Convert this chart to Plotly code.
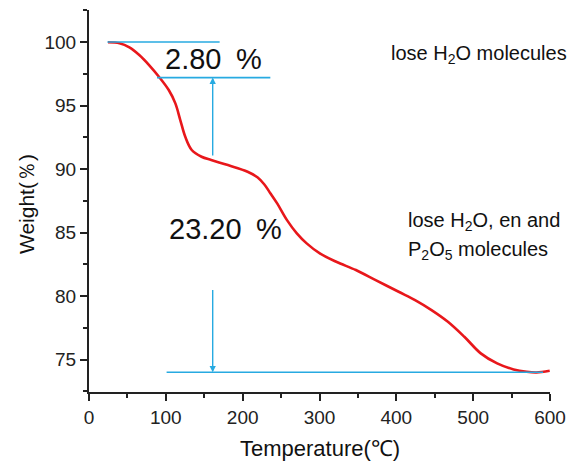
import plotly.graph_objects as go

# TGA curve: temperature (°C) vs remaining weight (%)
temperature = [24.7, 39.7, 52.6, 65.4, 78.2, 91.0, 103.8, 112.4, 118.8, 125.3, 133.7,
               146.5, 159.0, 180.8, 206.4, 219.2, 228.0, 236.0, 244.9, 257.7, 270.5,
               283.3, 300.4, 321.8, 347.4, 373.1, 403.0, 424.4, 445.8, 467.1, 488.5,
               509.9, 531.2, 552.6, 569.6, 582.4, 599.6]
weight = [99.98, 99.90, 99.58, 98.98, 98.19, 97.27, 96.22, 95.17, 93.86, 92.54, 91.50,
          90.97, 90.71, 90.31, 89.79, 89.35, 88.80, 88.10, 87.30, 85.98, 84.94,
          84.15, 83.36, 82.70, 82.05, 81.26, 80.34, 79.69, 78.90, 77.98, 76.80,
          75.49, 74.70, 74.23, 74.04, 73.99, 74.12]

# Mass-loss steps
start_weight = 100.0
loss_step1 = 2.80
loss_step2 = 23.20
after_step1 = start_weight - loss_step1
after_step2 = after_step1 - loss_step2

x_ticks = [0, 100, 200, 300, 400, 500, 600]
y_ticks = [75, 80, 85, 90, 95, 100]

RED = "#e8171b"
BLUE = "#27aae1"
FONT = "Liberation Sans, Arial, sans-serif"

fig = go.Figure()

fig.add_trace(go.Scatter(
    x=temperature, y=weight, mode="lines",
    line=dict(color=RED, width=2.6, shape="spline", smoothing=1.0),
    showlegend=False, hoverinfo="skip",
))

# Reference levels for the two mass-loss steps
level_lines = [
    ([24, 170], start_weight),
    ([88.5, 236], after_step1),
    ([101, 591], after_step2),
]
for xs, lvl in level_lines:
    fig.add_trace(go.Scatter(
        x=xs, y=[lvl, lvl], mode="lines",
        line=dict(color=BLUE, width=1.6),
        showlegend=False, hoverinfo="skip",
    ))

annotations = []

# Arrows: up to the first-step level, down to the final level
arrow_x = 161
annotations.append(dict(
    x=arrow_x, y=after_step1, ax=arrow_x, ay=90.95,
    xref="x", yref="y", axref="x", ayref="y",
    text="", showarrow=True, arrowhead=2, arrowsize=0.9, arrowwidth=1.4,
    arrowcolor=BLUE, standoff=0, startstandoff=0,
))
annotations.append(dict(
    x=arrow_x, y=after_step2, ax=arrow_x, ay=80.6,
    xref="x", yref="y", axref="x", ayref="y",
    text="", showarrow=True, arrowhead=2, arrowsize=0.9, arrowwidth=1.4,
    arrowcolor=BLUE, standoff=0, startstandoff=0,
))

text_items = [
    (96.5, 98.64, f"{loss_step1:.2f}\u2002%", 29),
    (101.3, 85.31, f"{loss_step2:.2f}\u2002%", 29),
    (391, 98.98, "lose H<sub>2</sub>O molecules", 20),
    (412.8, 85.9, "lose H<sub>2</sub>O, en and", 20),
    (412.8, 83.62, "P<sub>2</sub>O<sub>5</sub> molecules", 20),
]
for tx, ty, txt, size in text_items:
    annotations.append(dict(
        x=tx, y=ty, xref="x", yref="y", text=txt, showarrow=False,
        xanchor="left", yanchor="middle",
        font=dict(family=FONT, size=size, color="#111111"),
    ))

# Axis titles
annotations.append(dict(
    x=0.5, y=0, xref="paper", yref="paper", yshift=-56,
    text="Temperature(℃)", showarrow=False, xanchor="center", yanchor="middle",
    font=dict(family=FONT, size=22, color="#111111"),
))
annotations.append(dict(
    x=0, y=0.492, xref="paper", yref="paper", xshift=-63,
    text="Weight(％)", showarrow=False, xanchor="center", yanchor="middle",
    textangle=-90, font=dict(family=FONT, size=21, color="#111111"),
))

axis_common = dict(
    showgrid=False, zeroline=False, showline=True, linewidth=2, linecolor="#222222",
    ticks="outside", ticklen=7, tickwidth=2, tickcolor="#222222",
    tickfont=dict(family=FONT, size=19, color="#222222"),
)

fig.update_layout(
    width=576, height=466,
    margin=dict(l=89, r=19, t=10, b=74),
    paper_bgcolor="white", plot_bgcolor="white",
    xaxis=dict(range=[0, 600], tickvals=x_ticks,
               minor=dict(dtick=50, ticks="outside", ticklen=4, tickwidth=2,
                          tickcolor="#222222"),
               **axis_common),
    yaxis=dict(range=[72.45, 102.52], tickvals=y_ticks,
               minor=dict(dtick=2.5, tick0=0, ticks="outside", ticklen=4, tickwidth=2,
                          tickcolor="#222222"),
               **axis_common),
    annotations=annotations,
    showlegend=False,
)

fig.write_html("out.html")
